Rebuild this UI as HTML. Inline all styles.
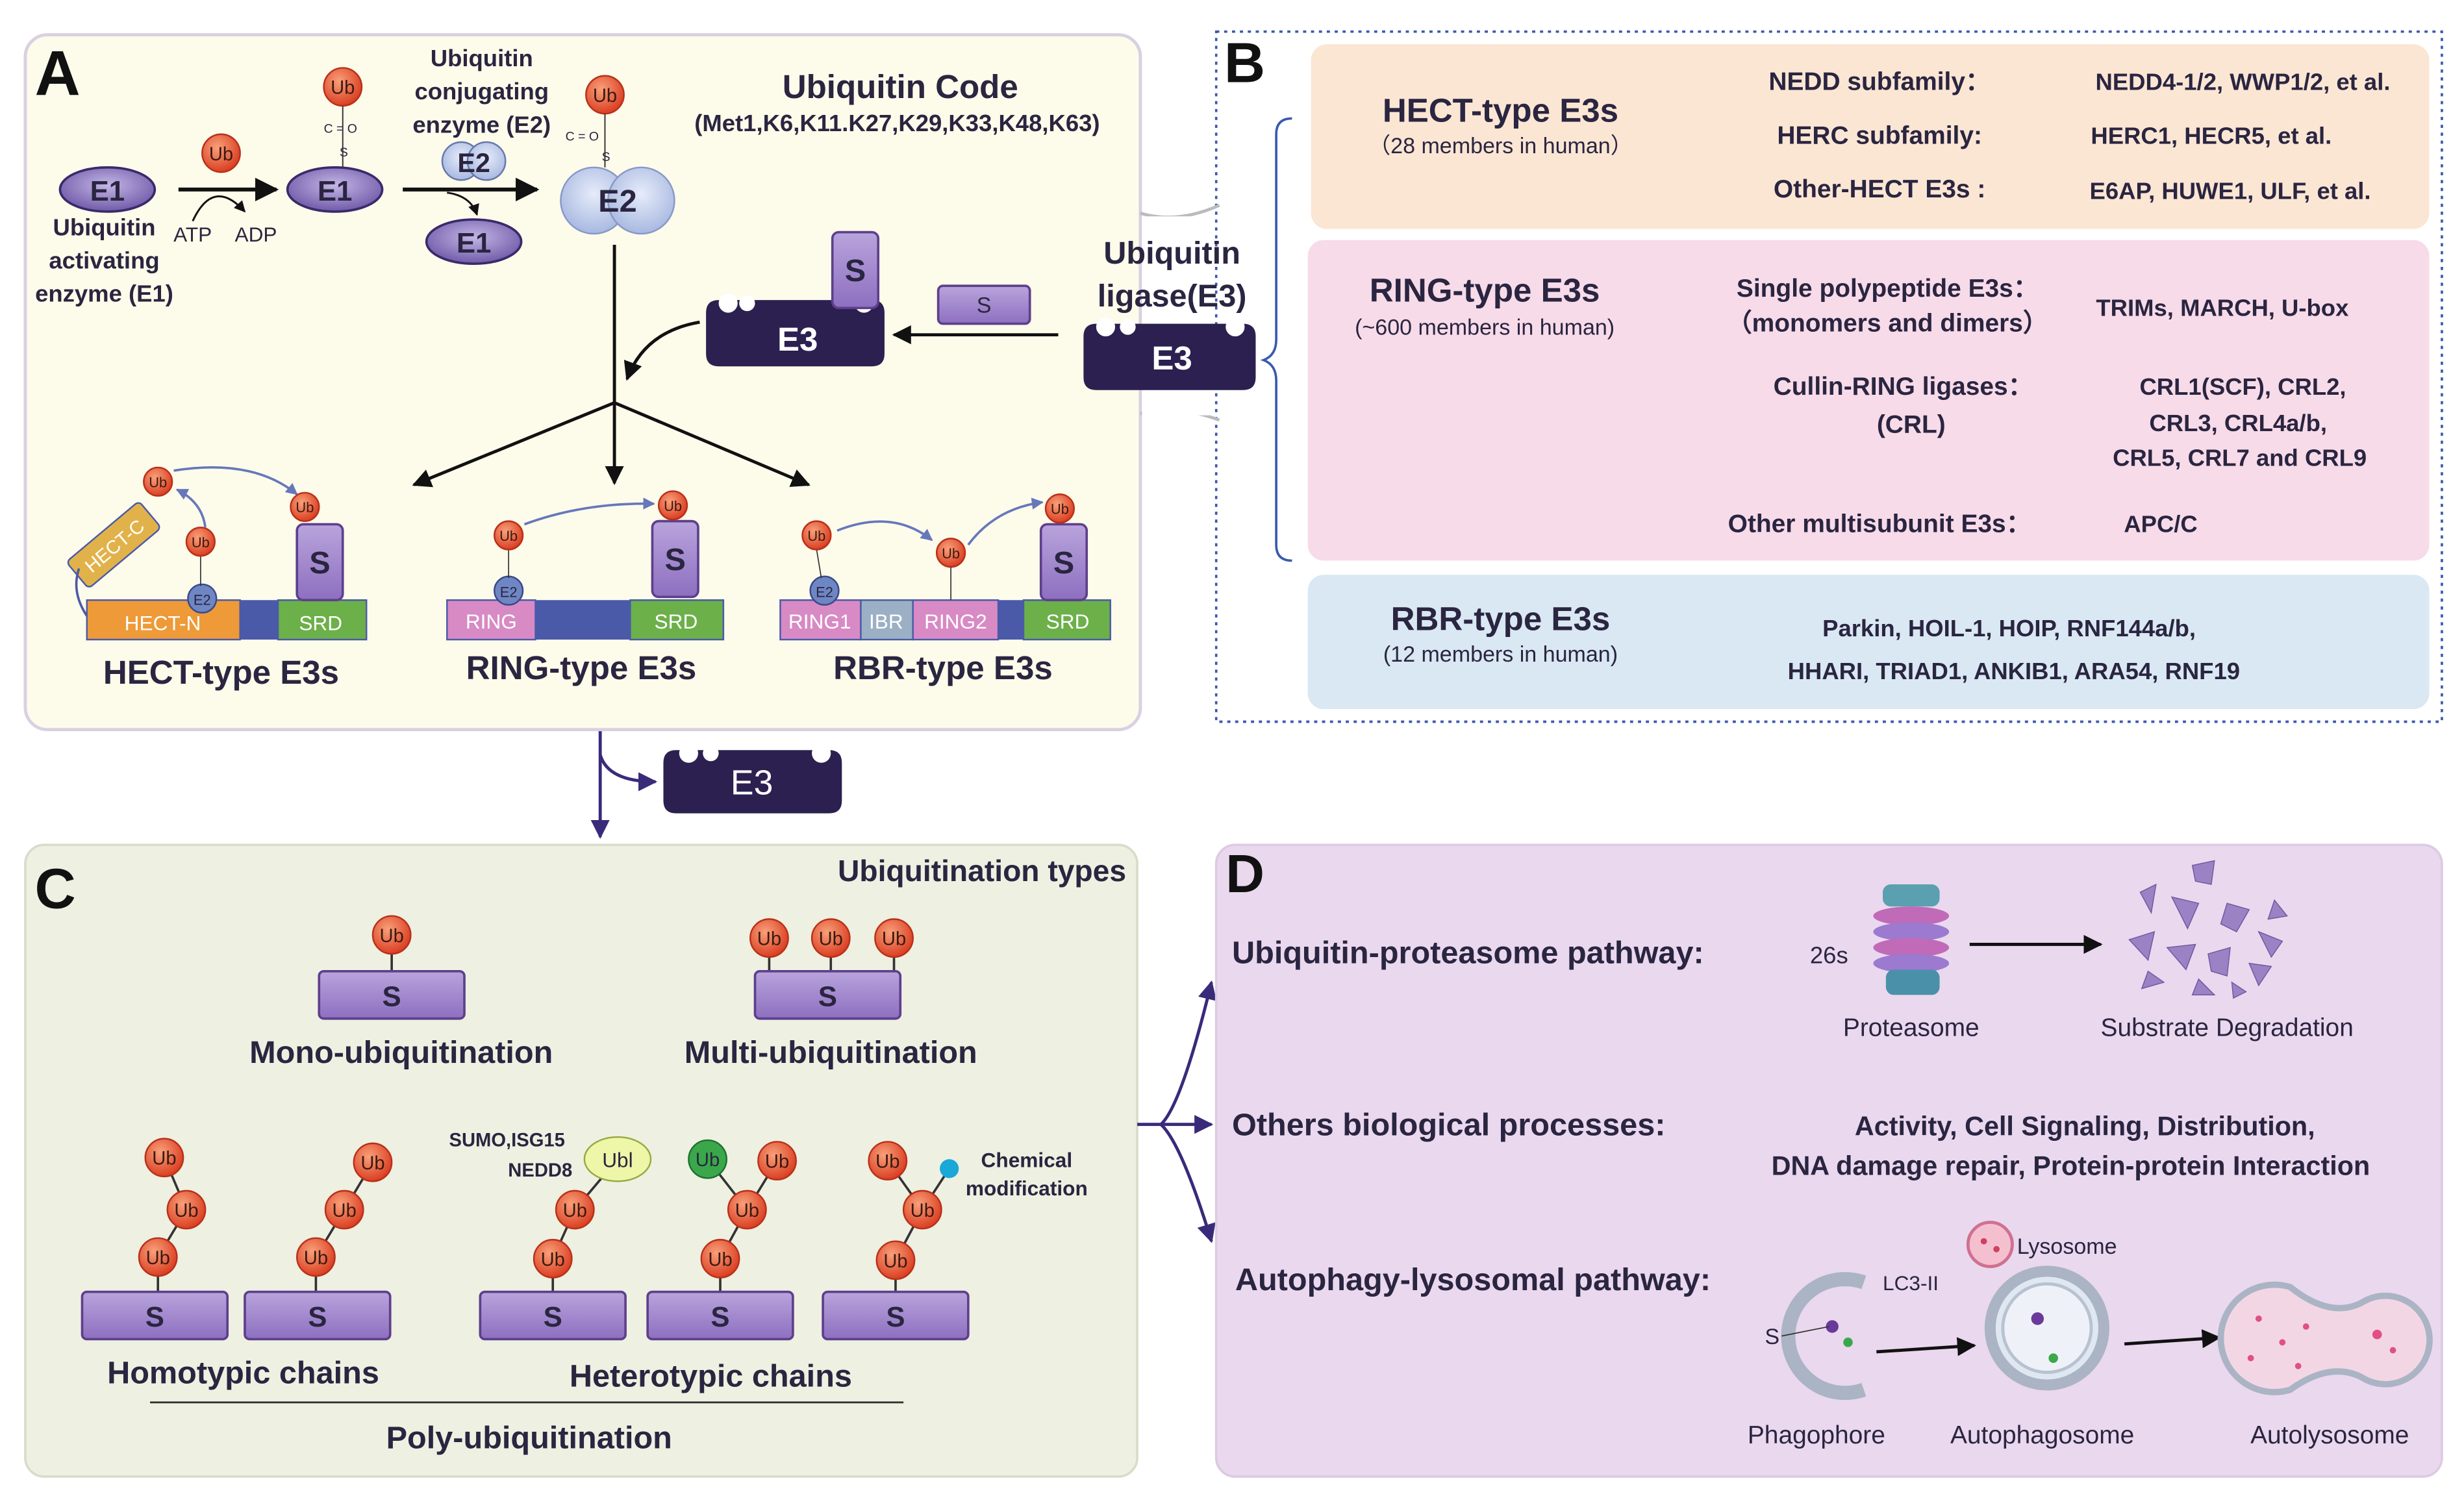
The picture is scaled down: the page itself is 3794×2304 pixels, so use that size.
<!DOCTYPE html>
<html><head><meta charset="utf-8"><style>
html,body{margin:0;padding:0;background:#fff;}
svg{display:block;}
text{font-family:"Liberation Sans",sans-serif;font-weight:bold;fill:#2a2540;}
.n{font-weight:normal;}
</style></head><body>
<svg width="3794" height="2304" viewBox="0 0 1560 947.3" preserveAspectRatio="none" xmlns="http://www.w3.org/2000/svg">
<defs>
<radialGradient id="ub" cx="0.4" cy="0.35" r="0.7"><stop offset="0" stop-color="#f9a07a"/><stop offset="1" stop-color="#d8381c"/></radialGradient>
<linearGradient id="pur" x1="0" y1="0" x2="0" y2="1"><stop offset="0" stop-color="#b9a4dc"/><stop offset="1" stop-color="#8d6fc0"/></linearGradient>
<radialGradient id="e1" cx="0.5" cy="0.4" r="0.6"><stop offset="0" stop-color="#c4b6e6"/><stop offset="1" stop-color="#6f5aa8"/></radialGradient>
<radialGradient id="e2" cx="0.5" cy="0.4" r="0.6"><stop offset="0" stop-color="#e6ecfa"/><stop offset="1" stop-color="#a8b8e0"/></radialGradient>
<marker id="ar" viewBox="0 0 10 10" refX="9" refY="5" markerWidth="6" markerHeight="6" orient="auto"><path d="M0,0 L10,5 L0,10 z" fill="#111"/></marker>
<marker id="arb" viewBox="0 0 10 10" refX="9" refY="5" markerWidth="5" markerHeight="5" orient="auto"><path d="M0,0 L10,5 L0,10 z" fill="#6677bb"/></marker>
<marker id="arp" viewBox="0 0 10 10" refX="9" refY="5" markerWidth="6" markerHeight="6" orient="auto"><path d="M0,0 L10,5 L0,10 z" fill="#3a2a7a"/></marker>
<g id="ubb"><circle r="12" fill="url(#ub)" stroke="#b8301a" stroke-width="1"/><text y="4.5" text-anchor="middle" class="n" font-size="12" style="fill:#3a1a10">Ub</text></g>
<g id="ubs"><circle r="9" fill="url(#ub)" stroke="#b8301a" stroke-width="1"/><text y="3.5" text-anchor="middle" class="n" font-size="9" style="fill:#3a1a10">Ub</text></g>
<g id="bar"><rect x="0" y="0" width="92" height="30" rx="3" fill="url(#pur)" stroke="#5e3f8c" stroke-width="1.5"/><text x="46" y="22" text-anchor="middle" font-size="18">S</text></g>
<g id="e3blk"><path d="M0,8 Q0,0 8,0 L105,0 Q113,0 113,8 L113,34 Q113,42 105,42 L8,42 Q0,42 0,34 z" fill="#2b2050"/><circle cx="14" cy="2" r="6" fill="#fff"/><circle cx="26" cy="2" r="5" fill="#fff"/><circle cx="100" cy="2" r="6" fill="#fff"/></g>
<g id="stab"><rect x="0" y="0" width="29" height="48" rx="4" fill="url(#pur)" stroke="#5e3f8c" stroke-width="1.5"/><text x="14.5" y="31" text-anchor="middle" font-size="20">S</text></g>
</defs>

<!-- Panel A -->
<rect x="16" y="22" width="706" height="440" rx="14" fill="#fdfbea" stroke="#d9d0e2" stroke-width="2"/>
<text x="22" y="60" font-size="40" style="fill:#111">A</text>
<ellipse cx="68" cy="120" rx="30" ry="14" fill="url(#e1)" stroke="#3a2a6a" stroke-width="1.5"/><text x="68" y="127" text-anchor="middle" font-size="18">E1</text>
<text x="66" y="149" text-anchor="middle" font-size="15">Ubiquitin</text>
<text x="66" y="170" text-anchor="middle" font-size="15">activating</text>
<text x="66" y="191" text-anchor="middle" font-size="15">enzyme (E1)</text>
<use href="#ubb" x="140" y="97"/>
<line x1="113" y1="120" x2="175" y2="120" stroke="#111" stroke-width="2.5" marker-end="url(#ar)"/>
<path d="M122,140 Q135,112 155,134" fill="none" stroke="#111" stroke-width="1.2" marker-end="url(#ar)"/>
<text x="122" y="153" text-anchor="middle" class="n" font-size="13">ATP</text>
<text x="162" y="153" text-anchor="middle" class="n" font-size="13">ADP</text>
<ellipse cx="212" cy="120" rx="30" ry="14" fill="url(#e1)" stroke="#3a2a6a" stroke-width="1.5"/><text x="212" y="127" text-anchor="middle" font-size="18">E1</text>
<use href="#ubb" x="217" y="55"/>
<line x1="217" y1="67" x2="217" y2="106" stroke="#333" stroke-width="0.8"/>
<text x="205" y="84" class="n" font-size="8">C = O</text><text x="215" y="99" class="n" font-size="8">S</text>
<text x="305" y="42" text-anchor="middle" font-size="15">Ubiquitin</text>
<text x="305" y="63" text-anchor="middle" font-size="15">conjugating</text>
<text x="305" y="84" text-anchor="middle" font-size="15">enzyme (E2)</text>
<circle cx="292" cy="102" r="12" fill="url(#e2)" stroke="#6677aa"/><circle cx="308" cy="102" r="12" fill="url(#e2)" stroke="#6677aa"/>
<text x="300" y="109" text-anchor="middle" font-size="17">E2</text>
<line x1="255" y1="120" x2="340" y2="120" stroke="#111" stroke-width="2.5" marker-end="url(#ar)"/>
<path d="M283,122 Q298,124 302,136" fill="none" stroke="#111" stroke-width="1.2" marker-end="url(#ar)"/>
<ellipse cx="300" cy="153" rx="30" ry="14" fill="url(#e1)" stroke="#3a2a6a" stroke-width="1.5"/><text x="300" y="160" text-anchor="middle" font-size="18">E1</text>
<circle cx="376" cy="127" r="21" fill="url(#e2)" stroke="#8898c8"/><circle cx="406" cy="127" r="21" fill="url(#e2)" stroke="#8898c8"/>
<text x="391" y="134" text-anchor="middle" font-size="20">E2</text>
<use href="#ubb" x="383" y="60"/>
<line x1="383" y1="72" x2="383" y2="106" stroke="#333" stroke-width="0.8"/>
<text x="358" y="89" class="n" font-size="8">C = O</text><text x="381" y="102" class="n" font-size="8">S</text>
<text x="570" y="62" text-anchor="middle" font-size="21">Ubiquitin Code</text>
<text x="568" y="83" text-anchor="middle" font-size="15">(Met1,K6,K11.K27,K29,K33,K48,K63)</text>
<line x1="389" y1="155" x2="389" y2="255" stroke="#111" stroke-width="2"/>
<line x1="389" y1="255" x2="262" y2="307" stroke="#111" stroke-width="2" marker-end="url(#ar)"/>
<line x1="389" y1="255" x2="389" y2="306" stroke="#111" stroke-width="2" marker-end="url(#ar)"/>
<line x1="389" y1="255" x2="512" y2="307" stroke="#111" stroke-width="2" marker-end="url(#ar)"/>
<use href="#e3blk" x="447" y="190"/>
<use href="#stab" x="527" y="147"/>
<text x="505" y="222" text-anchor="middle" font-size="21" style="fill:#fff">E3</text>
<line x1="670" y1="212" x2="566" y2="212" stroke="#111" stroke-width="2" marker-end="url(#ar)"/>
<rect x="594" y="181" width="58" height="24" rx="3" fill="url(#pur)" stroke="#5e3f8c" stroke-width="1.5"/><text x="623" y="198" text-anchor="middle" class="n" font-size="14">S</text>
<path d="M443,204 Q408,210 397,240" fill="none" stroke="#111" stroke-width="2" marker-end="url(#ar)"/>

<!-- HECT -->
<rect x="55" y="380" width="97" height="25" fill="#ee9a38" stroke="#4a5aa8"/>
<rect x="152" y="380" width="24" height="25" fill="#4a5aa8"/>
<rect x="176" y="380" width="56" height="25" fill="#6cb04a" stroke="#4a5aa8"/>
<text x="103" y="399" text-anchor="middle" class="n" font-size="13" style="fill:#fff">HECT-N</text>
<text x="203" y="399" text-anchor="middle" class="n" font-size="13" style="fill:#fff">SRD</text>
<g transform="translate(72,345) rotate(-40)"><rect x="-30" y="-11" width="60" height="22" rx="3" fill="#e2b24a" stroke="#4a5aa8"/><text y="5" text-anchor="middle" class="n" font-size="12" style="fill:#fff">HECT-C</text></g>
<path d="M55,390 Q45,375 50,360" fill="none" stroke="#4a5aa8" stroke-width="1.5"/>
<circle cx="128" cy="379" r="9" fill="#6f86c4" stroke="#3a4a88"/><text x="128" y="383" text-anchor="middle" class="n" font-size="9">E2</text>
<line x1="127" y1="352" x2="127" y2="371" stroke="#333" stroke-width="0.7"/>
<use href="#ubs" x="127" y="343"/>
<use href="#ubs" x="100" y="305"/>
<path d="M130,334 Q128,318 112,310" fill="none" stroke="#6677bb" stroke-width="1.5" marker-end="url(#arb)"/>
<path d="M110,298 Q160,290 188,313" fill="none" stroke="#6677bb" stroke-width="1.5" marker-end="url(#arb)"/>
<use href="#stab" x="188" y="332"/>
<use href="#ubs" x="193" y="321"/>
<text x="140" y="433" text-anchor="middle" font-size="21">HECT-type E3s</text>
<!-- RING -->
<rect x="283" y="380" width="56" height="25" fill="#d88ac4" stroke="#4a5aa8"/>
<rect x="339" y="380" width="60" height="25" fill="#4a5aa8"/>
<rect x="399" y="380" width="59" height="25" fill="#6cb04a" stroke="#4a5aa8"/>
<text x="311" y="398" text-anchor="middle" class="n" font-size="13" style="fill:#fff">RING</text>
<text x="428" y="398" text-anchor="middle" class="n" font-size="13" style="fill:#fff">SRD</text>
<circle cx="322" cy="374" r="9" fill="#6f86c4" stroke="#3a4a88"/><text x="322" y="378" text-anchor="middle" class="n" font-size="9">E2</text>
<line x1="322" y1="348" x2="322" y2="366" stroke="#333" stroke-width="0.7"/>
<use href="#ubs" x="322" y="339"/>
<path d="M332,332 Q370,318 414,319" fill="none" stroke="#6677bb" stroke-width="1.5" marker-end="url(#arb)"/>
<use href="#stab" x="413" y="330"/>
<use href="#ubs" x="426" y="320"/>
<text x="368" y="430" text-anchor="middle" font-size="21">RING-type E3s</text>
<!-- RBR -->
<rect x="494" y="380" width="51" height="25" fill="#d88ac4" stroke="#4a5aa8"/>
<rect x="545" y="380" width="33" height="25" fill="#9bb0c4" stroke="#4a5aa8"/>
<rect x="578" y="380" width="54" height="25" fill="#d88ac4" stroke="#4a5aa8"/>
<rect x="632" y="380" width="16" height="25" fill="#4a5aa8"/>
<rect x="648" y="380" width="55" height="25" fill="#6cb04a" stroke="#4a5aa8"/>
<text x="519" y="398" text-anchor="middle" class="n" font-size="13" style="fill:#fff">RING1</text>
<text x="561" y="398" text-anchor="middle" class="n" font-size="13" style="fill:#fff">IBR</text>
<text x="605" y="398" text-anchor="middle" class="n" font-size="13" style="fill:#fff">RING2</text>
<text x="676" y="398" text-anchor="middle" class="n" font-size="13" style="fill:#fff">SRD</text>
<circle cx="522" cy="374" r="9" fill="#6f86c4" stroke="#3a4a88"/><text x="522" y="378" text-anchor="middle" class="n" font-size="9">E2</text>
<line x1="517" y1="348" x2="520" y2="366" stroke="#333" stroke-width="0.7"/>
<use href="#ubs" x="517" y="339"/>
<use href="#ubs" x="602" y="350"/>
<line x1="602" y1="359" x2="602" y2="380" stroke="#333" stroke-width="0.7"/>
<path d="M530,336 Q565,322 590,342" fill="none" stroke="#6677bb" stroke-width="1.5" marker-end="url(#arb)"/>
<path d="M613,345 Q630,322 660,318" fill="none" stroke="#6677bb" stroke-width="1.5" marker-end="url(#arb)"/>
<use href="#stab" x="659" y="332"/>
<use href="#ubs" x="671" y="322"/>
<text x="597" y="430" text-anchor="middle" font-size="21">RBR-type E3s</text>

<!-- Panel B -->
<rect x="770" y="20" width="776" height="437" fill="#fff" stroke="#3a5ab0" stroke-width="1.5" stroke-dasharray="2,3"/>
<text x="775" y="52" font-size="36" style="fill:#111">B</text>
<path d="M818,75 Q808,75 808,85 L808,215 Q808,225 800,228 Q808,231 808,241 L808,345 Q808,355 818,355" fill="none" stroke="#3a5ab0" stroke-width="1.5"/>
<rect x="830" y="28" width="708" height="117" rx="10" fill="#fbe6d4"/>
<rect x="828" y="152" width="710" height="203" rx="10" fill="#f7dbe9"/>
<rect x="828" y="364" width="710" height="85" rx="10" fill="#d9e8f3"/>
<text x="950" y="77" text-anchor="middle" font-size="21">HECT-type E3s</text>
<text x="950" y="97" text-anchor="middle" class="n" font-size="14">（28 members in human）</text>
<text x="1190" y="57" text-anchor="middle" font-size="16">NEDD subfamily：</text>
<text x="1420" y="57" text-anchor="middle" font-size="15">NEDD4-1/2, WWP1/2, et al.</text>
<text x="1190" y="91" text-anchor="middle" font-size="16">HERC subfamily:</text>
<text x="1400" y="91" text-anchor="middle" font-size="15">HERC1, HECR5, et al.</text>
<text x="1190" y="125" text-anchor="middle" font-size="16">Other-HECT E3s :</text>
<text x="1412" y="126" text-anchor="middle" font-size="15">E6AP, HUWE1, ULF, et al.</text>
<text x="940" y="191" text-anchor="middle" font-size="21">RING-type E3s</text>
<text x="940" y="212" text-anchor="middle" class="n" font-size="14">(~600 members in human)</text>
<text x="1195" y="188" text-anchor="middle" font-size="16">Single polypeptide E3s：</text>
<text x="1195" y="210" text-anchor="middle" font-size="16">（monomers and dimers）</text>
<text x="1407" y="200" text-anchor="middle" font-size="15">TRIMs,  MARCH,  U-box</text>
<text x="1205" y="250" text-anchor="middle" font-size="16">Cullin-RING ligases：</text>
<text x="1210" y="274" text-anchor="middle" font-size="16">(CRL)</text>
<text x="1420" y="250" text-anchor="middle" font-size="15">CRL1(SCF), CRL2,</text>
<text x="1417" y="273" text-anchor="middle" font-size="15">CRL3,  CRL4a/b,</text>
<text x="1418" y="295" text-anchor="middle" font-size="15">CRL5,  CRL7 and  CRL9</text>
<text x="1190" y="337" text-anchor="middle" font-size="16">Other multisubunit E3s：</text>
<text x="1368" y="337" text-anchor="middle" font-size="15">APC/C</text>
<text x="950" y="399" text-anchor="middle" font-size="21">RBR-type E3s</text>
<text x="950" y="419" text-anchor="middle" class="n" font-size="14">(12 members in human)</text>
<text x="1272" y="403" text-anchor="middle" font-size="15">Parkin, HOIL-1, HOIP, RNF144a/b,</text>
<text x="1275" y="430" text-anchor="middle" font-size="15">HHARI,  TRIAD1, ANKIB1,  ARA54, RNF19</text>

<!-- Ubiquitin ligase connectors (on top) -->
<path d="M722,135 Q745,142 772,130" fill="none" stroke="#bbb" stroke-width="2"/>
<path d="M722,262 Q745,256 772,266" fill="none" stroke="#bbb" stroke-width="2"/>
<rect x="723" y="137" width="46" height="126" fill="#fff"/>
<text x="742" y="167" text-anchor="middle" font-size="20">Ubiquitin</text>
<text x="742" y="194" text-anchor="middle" font-size="20">ligase(E3)</text>
<path d="M686,213 Q686,205 694,205 L787,205 Q795,205 795,213 L795,239 Q795,247 787,247 L694,247 Q686,247 686,239 z" fill="#2b2050"/>
<circle cx="700" cy="207" r="6" fill="#fff"/><circle cx="714" cy="207" r="5" fill="#fff"/><circle cx="782" cy="207" r="6" fill="#fff"/>
<text x="742" y="234" text-anchor="middle" font-size="21" style="fill:#fff">E3</text>

<!-- A->C arrow -->
<line x1="380" y1="463" x2="380" y2="530" stroke="#3a2a7a" stroke-width="2" marker-end="url(#arp)"/>
<path d="M380,478 Q385,495 415,495" fill="none" stroke="#3a2a7a" stroke-width="2" marker-end="url(#arp)"/>
<path d="M420,483 Q420,475 428,475 L525,475 Q533,475 533,483 L533,507 Q533,515 525,515 L428,515 Q420,515 420,507 z" fill="#2b2050"/>
<circle cx="436" cy="477" r="6" fill="#fff"/><circle cx="450" cy="477" r="5" fill="#fff"/><circle cx="520" cy="477" r="6" fill="#fff"/>
<text x="476" y="503" text-anchor="middle" class="n" font-size="22" style="fill:#fff">E3</text>

<!-- Panel C -->
<rect x="16" y="535" width="704" height="400" rx="12" fill="#eef0e1" stroke="#d9dccb" stroke-width="1.5"/>
<text x="22" y="575" font-size="36" style="fill:#111">C</text>
<text x="713" y="558" text-anchor="end" font-size="19">Ubiquitination types</text>
<line x1="248" y1="604" x2="248" y2="615" stroke="#333" stroke-width="1.5"/>
<use href="#bar" x="202" y="615"/><use href="#ubb" x="248" y="592"/>
<line x1="487" y1="606" x2="487" y2="615" stroke="#333" stroke-width="1.5"/>
<line x1="526" y1="606" x2="526" y2="615" stroke="#333" stroke-width="1.5"/>
<line x1="566" y1="606" x2="566" y2="615" stroke="#333" stroke-width="1.5"/>
<use href="#bar" x="478" y="615"/><use href="#ubb" x="487" y="594"/><use href="#ubb" x="526" y="594"/><use href="#ubb" x="566" y="594"/>
<text x="254" y="673" text-anchor="middle" font-size="20">Mono-ubiquitination</text>
<text x="526" y="673" text-anchor="middle" font-size="20">Multi-ubiquitination</text>
<g stroke="#333" stroke-width="1.5" fill="none">
<polyline points="100,818 100,796 118,766 104,733"/>
<polyline points="200,818 200,796 218,766 236,736"/>
<polyline points="350,818 350,797 364,766 391,734"/>
<polyline points="456,818 456,797 473,766 448,734"/>
<line x1="473" y1="766" x2="492" y2="735"/>
<polyline points="567,818 567,798 584,766 562,735"/>
<line x1="584" y1="766" x2="601" y2="740"/>
</g>
<use href="#bar" x="52" y="818"/><use href="#bar" x="155" y="818"/>
<use href="#bar" x="304" y="818"/><use href="#bar" x="410" y="818"/><use href="#bar" x="521" y="818"/>
<use href="#ubb" x="100" y="796"/><use href="#ubb" x="118" y="766"/><use href="#ubb" x="104" y="733"/>
<use href="#ubb" x="200" y="796"/><use href="#ubb" x="218" y="766"/><use href="#ubb" x="236" y="736"/>
<use href="#ubb" x="350" y="797"/><use href="#ubb" x="364" y="766"/>
<ellipse cx="391" cy="734" rx="21" ry="14" fill="#eef6a8" stroke="#9aa840"/><text x="391" y="739" text-anchor="middle" class="n" font-size="13">Ubl</text>
<use href="#ubb" x="456" y="797"/><use href="#ubb" x="473" y="766"/><use href="#ubb" x="492" y="735"/>
<circle cx="448" cy="734" r="12" fill="#3aa84a" stroke="#1e7030"/><text x="448" y="738.5" text-anchor="middle" class="n" font-size="12">Ub</text>
<use href="#ubb" x="567" y="798"/><use href="#ubb" x="584" y="766"/><use href="#ubb" x="562" y="735"/>
<circle cx="601" cy="740" r="6" fill="#1aa8d8"/>
<text x="321" y="726" text-anchor="middle" font-size="12">SUMO,ISG15</text>
<text x="342" y="745" text-anchor="middle" font-size="12">NEDD8</text>
<text x="650" y="739" text-anchor="middle" font-size="13">Chemical</text>
<text x="650" y="757" text-anchor="middle" font-size="13">modification</text>
<text x="154" y="876" text-anchor="middle" font-size="20">Homotypic chains</text>
<text x="450" y="878" text-anchor="middle" font-size="20">Heterotypic chains</text>
<line x1="95" y1="888" x2="572" y2="888" stroke="#333" stroke-width="1.2"/>
<text x="335" y="917" text-anchor="middle" font-size="20">Poly-ubiquitination</text>

<!-- C->D arrows -->
<line x1="720" y1="712" x2="735" y2="712" stroke="#3a2a7a" stroke-width="2"/>
<path d="M735,712 Q748,700 767,622" fill="none" stroke="#3a2a7a" stroke-width="2" marker-end="url(#arp)"/>
<line x1="735" y1="712" x2="767" y2="712" stroke="#3a2a7a" stroke-width="2" marker-end="url(#arp)"/>
<path d="M735,712 Q748,724 767,786" fill="none" stroke="#3a2a7a" stroke-width="2" marker-end="url(#arp)"/>

<!-- Panel D -->
<rect x="770" y="535" width="776" height="400" rx="12" fill="#ead8ee" stroke="#ddcbe2" stroke-width="1.5"/>
<text x="776" y="565" font-size="34" style="fill:#111">D</text>
<text x="780" y="610" font-size="20">Ubiquitin-proteasome pathway:</text>
<text x="1158" y="610" text-anchor="middle" class="n" font-size="15">26s</text>
<g>
<rect x="1192" y="560" width="36" height="14" rx="5" fill="#5aa0b0"/>
<ellipse cx="1210" cy="580" rx="24" ry="6" fill="#c06ab8"/>
<ellipse cx="1210" cy="590" rx="24" ry="6" fill="#9b7ad0"/>
<ellipse cx="1210" cy="600" rx="24" ry="6" fill="#c06ab8"/>
<ellipse cx="1210" cy="610" rx="24" ry="6" fill="#9b7ad0"/>
<rect x="1194" y="614" width="34" height="16" rx="5" fill="#4a90a8"/>
</g>
<line x1="1247" y1="598" x2="1330" y2="598" stroke="#111" stroke-width="2" marker-end="url(#ar)"/>
<g fill="#9a82c4" stroke="#6e58a0" stroke-width="0.6">
<polygon points="1388,548 1402,545 1400,560 1390,558"/>
<polygon points="1355,565 1365,560 1362,578"/>
<polygon points="1375,568 1392,572 1385,588"/>
<polygon points="1410,572 1424,576 1416,590 1406,585"/>
<polygon points="1430,590 1445,596 1438,606"/>
<polygon points="1348,595 1364,590 1360,608"/>
<polygon points="1372,600 1390,598 1384,614"/>
<polygon points="1398,604 1412,600 1410,618 1400,615"/>
<polygon points="1424,610 1438,612 1430,624"/>
<polygon points="1360,615 1370,622 1356,626"/>
<polygon points="1392,620 1402,630 1388,630"/>
<polygon points="1413,622 1422,628 1414,632"/>
<polygon points="1440,570 1448,580 1436,582"/>
</g>
<text x="1210" y="656" text-anchor="middle" class="n" font-size="16">Proteasome</text>
<text x="1410" y="656" text-anchor="middle" class="n" font-size="16">Substrate Degradation</text>
<text x="780" y="719" font-size="20">Others biological processes:</text>
<text x="1320" y="719" text-anchor="middle" font-size="17">Activity, Cell Signaling, Distribution,</text>
<text x="1311" y="744" text-anchor="middle" font-size="17">DNA damage repair, Protein-protein Interaction</text>
<text x="782" y="817" font-size="20">Autophagy-lysosomal pathway:</text>
<path d="M1180,812 A36,36 0 1,0 1180,880" fill="none" stroke="#aab4c4" stroke-width="9"/>
<circle cx="1160" cy="840" r="4" fill="#6a3a9a"/><circle cx="1170" cy="850" r="3" fill="#3aa84a"/>
<text x="1122" y="851" text-anchor="middle" class="n" font-size="14">S</text>
<line x1="1128" y1="846" x2="1158" y2="840" stroke="#333" stroke-width="0.7"/>
<text x="1192" y="817" class="n" font-size="13">LC3-II</text>
<line x1="1188" y1="856" x2="1250" y2="852" stroke="#111" stroke-width="2" marker-end="url(#ar)"/>
<circle cx="1296" cy="841" r="36" fill="#dfe8f2" stroke="#aab4c4" stroke-width="7"/>
<circle cx="1296" cy="841" r="28" fill="#eef2f8" stroke="#b8c2d0" stroke-width="2"/>
<circle cx="1290" cy="835" r="4" fill="#6a3a9a"/><circle cx="1300" cy="860" r="3" fill="#3aa84a"/>
<circle cx="1260" cy="788" r="14" fill="#f4c0d0" stroke="#d07090" stroke-width="2"/>
<circle cx="1256" cy="786" r="2" fill="#d04060"/><circle cx="1264" cy="791" r="2" fill="#d04060"/>
<text x="1277" y="794" class="n" font-size="14">Lysosome</text>
<line x1="1345" y1="851" x2="1405" y2="847" stroke="#111" stroke-width="2" marker-end="url(#ar)"/>
<path d="M1450,815 Q1475,835 1495,825 A28,28 0 1,1 1495,872 Q1475,862 1450,880 A34,34 0 1,1 1450,815 z" fill="#f3d6e4" stroke="#aab4c4" stroke-width="4"/>
<g fill="#e05080"><circle cx="1430" cy="835" r="2"/><circle cx="1445" cy="850" r="2"/><circle cx="1425" cy="860" r="2"/><circle cx="1460" cy="840" r="2"/><circle cx="1455" cy="865" r="2"/><circle cx="1505" cy="845" r="3"/><circle cx="1515" cy="855" r="2"/></g>
<text x="1150" y="914" text-anchor="middle" class="n" font-size="16">Phagophore</text>
<text x="1293" y="914" text-anchor="middle" class="n" font-size="16">Autophagosome</text>
<text x="1475" y="914" text-anchor="middle" class="n" font-size="16">Autolysosome</text>
</svg>
</body></html>
